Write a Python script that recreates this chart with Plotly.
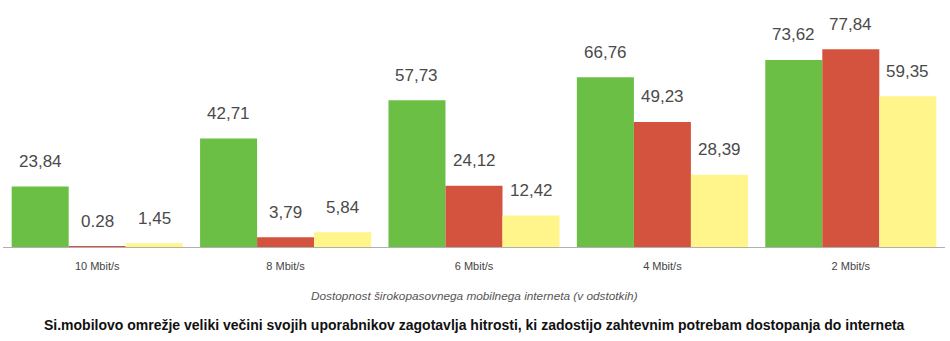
import plotly.graph_objects as go

categories = ["10 Mbit/s", "8 Mbit/s", "6 Mbit/s", "4 Mbit/s", "2 Mbit/s"]
green_vals = [23.84, 42.71, 57.73, 66.76, 73.62]
red_vals = [0.28, 3.79, 24.12, 49.23, 77.84]
yellow_vals = [1.45, 5.84, 12.42, 28.39, 59.35]
green_labels = ["23,84", "42,71", "57,73", "66,76", "73,62"]
red_labels = ["0.28", "3,79", "24,12", "49,23", "77,84"]
yellow_labels = ["1,45", "5,84", "12,42", "28,39", "59,35"]

axis_title = "Dostopnost širokopasovnega mobilnega interneta (v odstotkih)"
main_title = "Si.mobilovo omrežje veliki večini svojih uporabnikov zagotavlja hitrosti, ki zadostijo zahtevnim potrebam dostopanja do interneta"

colors = ["#6cbf45", "#d4533f", "#fff58a"]
series = [(green_vals, green_labels), (red_vals, red_labels), (yellow_vals, yellow_labels)]

bargap = 0.092
bw = (1 - bargap) / 3
offsets = [-bw, 0, bw]

fig = go.Figure()
annotations = []
for (vals, labs), col, off in zip(series, colors, offsets):
    fig.add_trace(go.Bar(x=categories, y=vals, marker=dict(color=col, line=dict(width=0)),
                         hoverinfo="skip"))
    for i, (v, t) in enumerate(zip(vals, labs)):
        annotations.append(dict(x=i + off, y=v, xref="x", yref="y", text=t, showarrow=False,
                                yanchor="middle", yshift=25,
                                font=dict(family="Liberation Sans, Arial", size=17, color="#4a4a4a")))

annotations.append(dict(x=0.5, y=-0.2, xref="paper", yref="paper", text="<i>" + axis_title + "</i>",
                        showarrow=False, yanchor="middle",
                        font=dict(family="Liberation Sans, Arial", size=11.8, color="#555555")))
annotations.append(dict(x=0.5, y=-0.315, xref="paper", yref="paper", text="<b>" + main_title + "</b>",
                        showarrow=False, yanchor="middle",
                        font=dict(family="Liberation Sans, Arial", size=14, color="#111111")))

fig.update_layout(
    width=950, height=341,
    margin=dict(l=3, r=5, t=0, b=94),
    barmode="group", bargap=bargap, bargroupgap=0,
    plot_bgcolor="white", paper_bgcolor="white",
    showlegend=False,
    annotations=annotations,
    xaxis=dict(showline=True, linecolor="#b0b0b0", linewidth=1, ticks="", showgrid=False,
               ticklabelstandoff=9,
               tickfont=dict(family="Liberation Sans, Arial", size=11, color="#444444")),
    yaxis=dict(range=[0, 97.2], visible=False, showgrid=False, zeroline=False),
)

fig.write_html("out.html")
